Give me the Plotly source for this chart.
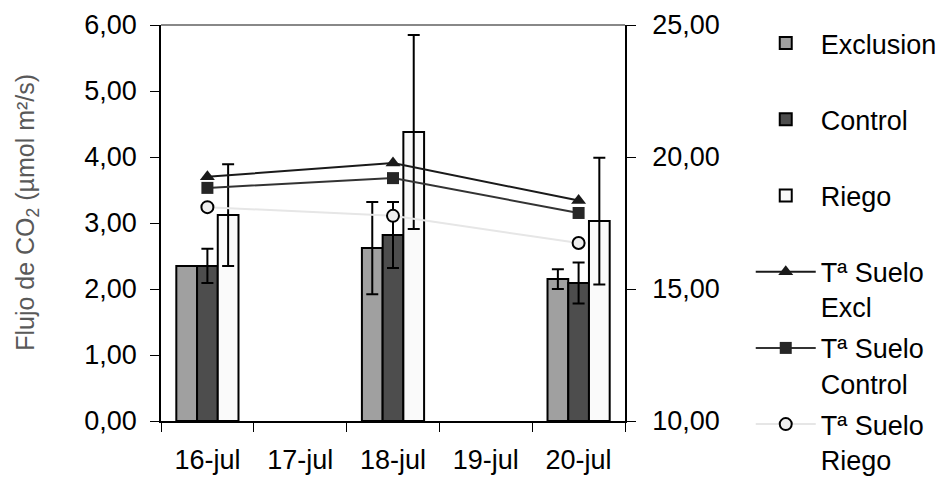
import plotly.graph_objects as go

categories = ["16-jul", "17-jul", "18-jul", "19-jul", "20-jul"]
bar_dates = ["16-jul", "18-jul", "20-jul"]

exclusion = [2.35, 2.62, 2.15]
exclusion_err = [0.0, 0.70, 0.15]
control = [2.35, 2.82, 2.09]
control_err = [0.26, 0.50, 0.31]
riego = [3.12, 4.38, 3.03]
riego_err = [0.77, 1.47, 0.96]

t_excl = [19.25, 19.77, 18.35]
t_control = [18.83, 19.20, 17.88]
t_riego = [18.10, 17.77, 16.74]

font_family = "Liberation Sans, Arial, sans-serif"
FS = 27

fig = go.Figure()

def bar(name, vals, errs, color):
    fig.add_trace(go.Bar(
        x=bar_dates, y=vals, name=name + "<br>\u00a0", legendgroup=name,
        marker=dict(color=color, line=dict(color="black", width=2)),
        error_y=dict(type="data", array=errs, visible=True, color="black",
                     thickness=2, width=6),
        yaxis="y",
    ))

bar("Exclusion", exclusion, exclusion_err, "#a0a0a0")
bar("Control", control, control_err, "#4d4d4d")
bar("Riego", riego, riego_err, "#fafafa")

fig.add_trace(go.Scatter(
    x=bar_dates, y=t_excl, name="Tª Suelo<br>Excl", yaxis="y2",
    legendgroup="t_excl", mode="lines+markers",
    line=dict(color="#1a1a1a", width=2),
    marker=dict(symbol="triangle-up", size=13, color="#1a1a1a"),
))
fig.add_trace(go.Scatter(
    x=bar_dates, y=t_control, name="Tª Suelo<br>Control", yaxis="y2",
    legendgroup="t_control", mode="lines+markers",
    line=dict(color="#333333", width=2),
    marker=dict(symbol="square", size=12, color="#262626"),
))
fig.add_trace(go.Scatter(
    x=bar_dates, y=t_riego, name="Tª Suelo<br>Riego", yaxis="y2",
    legendgroup="t_riego", mode="lines+markers",
    line=dict(color="#e6e6e6", width=2),
    marker=dict(symbol="circle", size=12, color="#eeeeee",
                line=dict(color="black", width=2)),
))

fig.update_layout(
    width=936, height=473,
    margin=dict(l=153, r=319, t=17, b=60, autoexpand=False),
    paper_bgcolor="white", plot_bgcolor="white",
    separators=",.",
    barmode="group", bargap=0.33, bargroupgap=0,
    font=dict(family=font_family, size=FS, color="black"),
    showlegend=True,
    legend=dict(x=1.271, y=1.015, xanchor="left", yanchor="top",
                font=dict(size=FS), valign="top", itemwidth=60,
                traceorder="grouped", tracegroupgap=3, maxheight=800,
                bgcolor="rgba(0,0,0,0)"),
    xaxis=dict(type="category", categoryorder="array", categoryarray=categories,
               range=[-0.5, 4.5], tickson="boundaries", ticks="outside",
               ticklen=9, tickcolor="black", showline=True, linecolor="black",
               linewidth=1.5, showgrid=False, tickfont=dict(size=FS),
               ticklabelstandoff=14),
    yaxis=dict(range=[0, 6], dtick=1, tickformat=".2f", ticks="outside",
               ticklen=9, tickcolor="black", showline=True, linecolor="black",
               linewidth=1.5, showgrid=False, zeroline=False,
               tickfont=dict(size=FS), ticklabelstandoff=8),
    yaxis2=dict(range=[10, 25], dtick=5, tickformat=".2f", overlaying="y",
                side="right", ticks="outside", ticklen=9, tickcolor="black",
                showline=True, linecolor="black", linewidth=1.5,
                showgrid=False, zeroline=False, tickfont=dict(size=FS),
                ticklabelstandoff=11),
    shapes=[dict(type="line", xref="paper", yref="paper", x0=0, x1=1, y0=1, y1=1,
                 line=dict(color="#888888", width=2))],
    annotations=[dict(text="Flujo de CO<sub>2</sub> (µmol m²/s)", xref="paper",
                      yref="paper", x=-0.289, y=0.528, textangle=-90,
                      showarrow=False, xanchor="center", yanchor="middle",
                      font=dict(size=25, color="#595959"))],
)

fig.write_html("out.html")
